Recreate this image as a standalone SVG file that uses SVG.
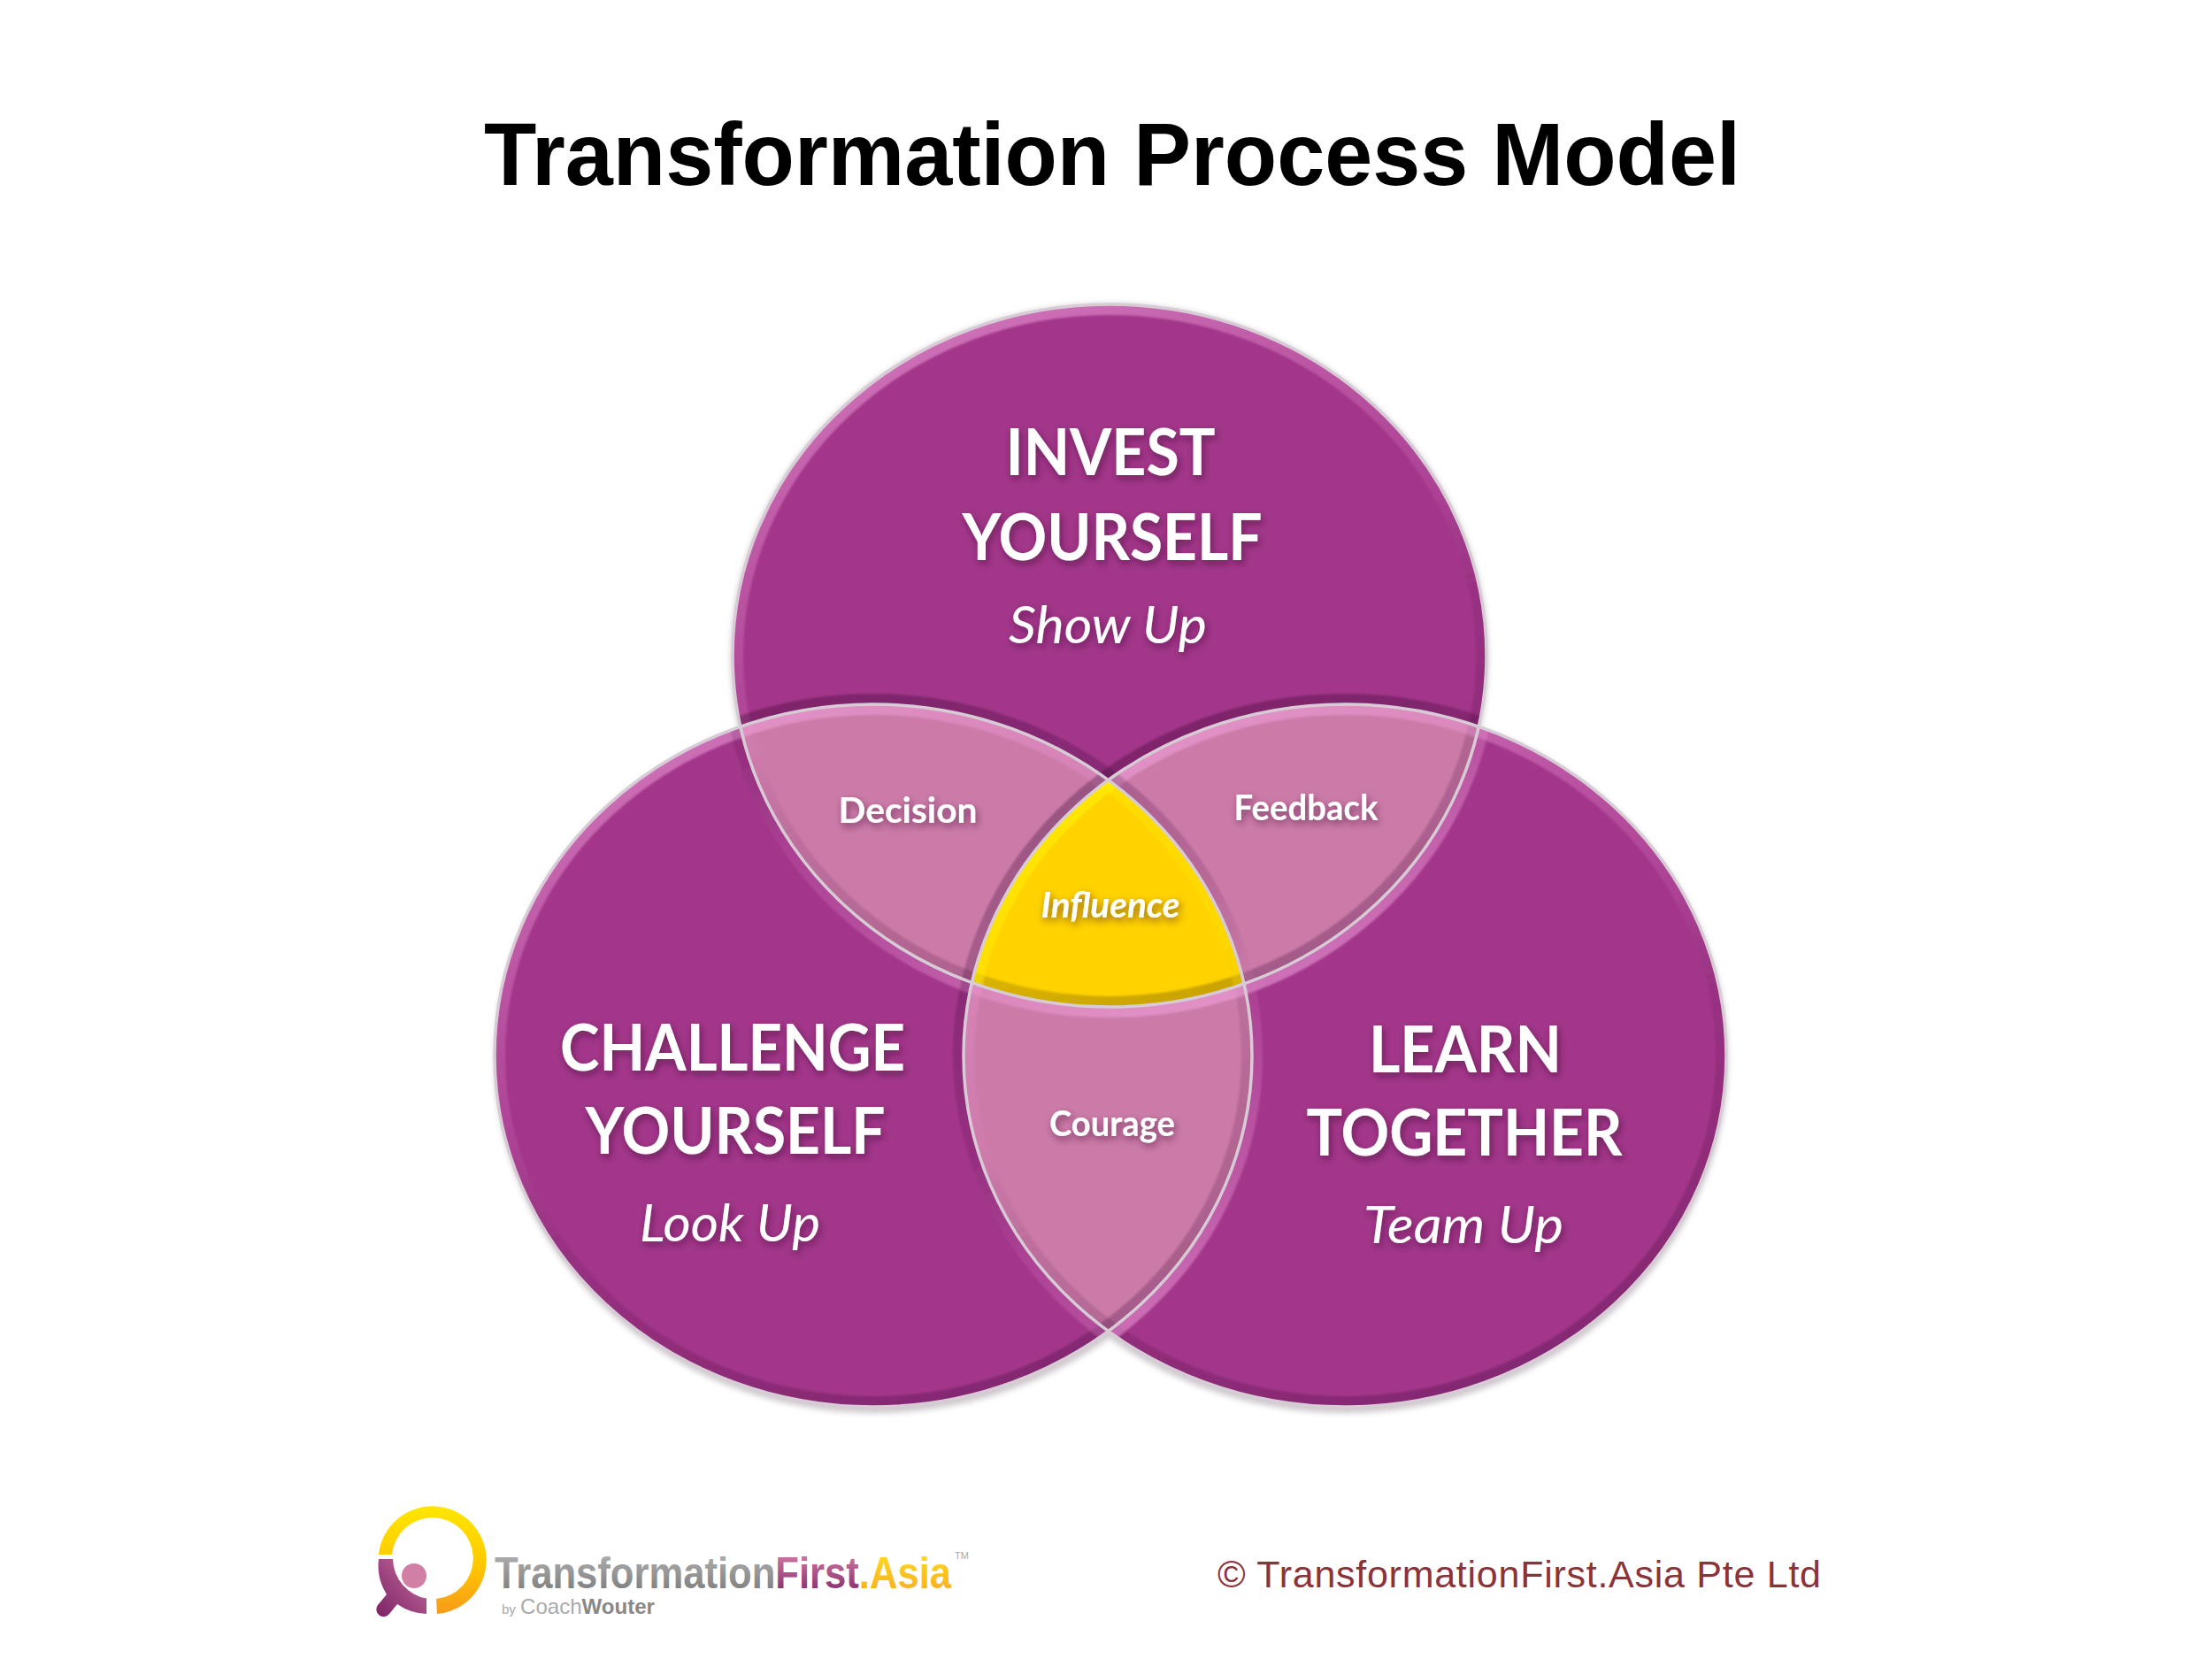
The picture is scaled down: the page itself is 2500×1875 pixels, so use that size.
<svg xmlns="http://www.w3.org/2000/svg" width="2500" height="1875" viewBox="0 0 2500 1875">
<style>
.in{fill:none;stroke:url(#gIn);stroke-width:24}
.out{fill:none;stroke:url(#gOut);stroke-width:24}
.iny{fill:none;stroke:url(#gY);stroke-width:24}
.rim{fill:none;stroke:#d7ccd6;stroke-width:3.5}
.head{font-family:"Lato","Liberation Sans",sans-serif;font-weight:700;font-size:72px;fill:#fff;text-anchor:middle;filter:url(#ts)}
.sub{font-family:"Lato","Liberation Sans",sans-serif;font-style:italic;font-size:58px;fill:#fff;text-anchor:middle;filter:url(#ts)}
.small{font-family:"Lato","Liberation Sans",sans-serif;font-weight:700;font-size:41px;fill:#fff;text-anchor:middle;filter:url(#ts)}
.logo{font-family:"Liberation Sans",sans-serif}
</style>
<defs>
<linearGradient id="gIn" x1="0.3" y1="0" x2="0.7" y2="1"><stop offset="0" stop-color="#f6a8e2" stop-opacity=".55"/><stop offset=".45" stop-color="#e080c8" stop-opacity=".16"/><stop offset=".6" stop-color="#40103a" stop-opacity=".1"/><stop offset="1" stop-color="#300a2a" stop-opacity=".28"/></linearGradient>
<linearGradient id="gOut" x1="0.3" y1="0" x2="0.7" y2="1"><stop offset="0" stop-color="#300a2a" stop-opacity=".34"/><stop offset=".45" stop-color="#40103a" stop-opacity=".14"/><stop offset=".6" stop-color="#e080c8" stop-opacity=".16"/><stop offset="1" stop-color="#f6a8e2" stop-opacity=".55"/></linearGradient>
<linearGradient id="gY" x1="0.3" y1="0" x2="0.7" y2="1"><stop offset="0" stop-color="#fff200" stop-opacity=".7"/><stop offset=".5" stop-color="#ffe000" stop-opacity=".4"/><stop offset="1" stop-color="#8a6a00" stop-opacity=".5"/></linearGradient>
<linearGradient id="ly" x1="0" y1="0" x2="0" y2="1"><stop offset="0" stop-color="#ffe600"/><stop offset=".55" stop-color="#ffc800"/><stop offset="1" stop-color="#f79a1a"/></linearGradient>
<linearGradient id="lp" x1="1" y1="0" x2="0" y2="1"><stop offset="0" stop-color="#c76f9f"/><stop offset="1" stop-color="#7c2266"/></linearGradient>
<linearGradient id="tg" x1="0" y1="0" x2="0" y2="1"><stop offset="0" stop-color="#b5b5b5"/><stop offset="1" stop-color="#777"/></linearGradient>
<linearGradient id="tp" x1="0" y1="0" x2="0" y2="1"><stop offset="0" stop-color="#d884ab"/><stop offset="1" stop-color="#7c2266"/></linearGradient>
<linearGradient id="to" x1="0" y1="0" x2="0" y2="1"><stop offset="0" stop-color="#ffe020"/><stop offset="1" stop-color="#f8a81e"/></linearGradient>
<filter id="ts" x="-20%" y="-40%" width="140%" height="200%"><feDropShadow dx="2" dy="4" stdDeviation="4" flood-color="#3a0a30" flood-opacity=".55"/></filter>
<filter id="soft" x="-5%" y="-5%" width="110%" height="110%"><feGaussianBlur stdDeviation="0.8"/></filter>
<filter id="sh" x="-5%" y="-5%" width="110%" height="110%"><feGaussianBlur stdDeviation="3"/></filter>
<ellipse id="eT" cx="1258" cy="745" rx="426" ry="397"/>
<ellipse id="eL" cx="991" cy="1197" rx="428" ry="397"/>
<ellipse id="eR" cx="1524" cy="1197" rx="431" ry="397"/>
<clipPath id="cT"><ellipse cx="1258" cy="745" rx="426" ry="397"/></clipPath>
<clipPath id="cL"><ellipse cx="991" cy="1197" rx="428" ry="397"/></clipPath>
<clipPath id="cR"><ellipse cx="1524" cy="1197" rx="431" ry="397"/></clipPath>
<clipPath id="nT"><path clip-rule="evenodd" d="M0 0H2500V1875H0Z M832 745a426 397 0 1 0 852 0a426 397 0 1 0 -852 0Z"/></clipPath>
<clipPath id="nL"><path clip-rule="evenodd" d="M0 0H2500V1875H0Z M563 1197a428 397 0 1 0 856 0a428 397 0 1 0 -856 0Z"/></clipPath>
<clipPath id="nR"><path clip-rule="evenodd" d="M0 0H2500V1875H0Z M1093 1197a431 397 0 1 0 862 0a431 397 0 1 0 -862 0Z"/></clipPath>
</defs>
<rect width="2500" height="1875" fill="#fff"/>
<text id="title" x="1257" y="209" font-family="'Liberation Sans',Arial,sans-serif" font-weight="700" font-size="100" text-anchor="middle" fill="#000" textLength="1420" lengthAdjust="spacingAndGlyphs">Transformation Process Model</text>
<g id="venn" transform="translate(-4,-4)">
<g id="shadow" fill="#bdb6bc" filter="url(#sh)" opacity=".75">
<ellipse cx="1258" cy="747" rx="428" ry="400"/><ellipse cx="993" cy="1201" rx="430" ry="400"/><ellipse cx="1524" cy="1201" rx="433" ry="400"/>
</g>
<g id="invest-yourself"><g clip-path="url(#cT)"><g clip-path="url(#nL)"><g clip-path="url(#nR)">
<rect width="2500" height="1875" fill="#a3368a"/><g filter="url(#soft)"><use href="#eT" class="in"/><use href="#eL" class="out"/><use href="#eR" class="out"/></g>
</g></g></g></g>
<g id="challenge-yourself"><g clip-path="url(#cL)"><g clip-path="url(#nT)"><g clip-path="url(#nR)">
<rect width="2500" height="1875" fill="#a3368a"/><g filter="url(#soft)"><use href="#eL" class="in"/><use href="#eT" class="out"/><use href="#eR" class="out"/></g>
</g></g></g></g>
<g id="learn-together"><g clip-path="url(#cR)"><g clip-path="url(#nT)"><g clip-path="url(#nL)">
<rect width="2500" height="1875" fill="#a3368a"/><g filter="url(#soft)"><use href="#eR" class="in"/><use href="#eT" class="out"/><use href="#eL" class="out"/></g>
</g></g></g></g>
<g id="decision"><g clip-path="url(#cT)"><g clip-path="url(#cL)"><g clip-path="url(#nR)">
<rect width="2500" height="1875" fill="#cc7ba8"/><g filter="url(#soft)"><use href="#eT" class="in"/><use href="#eL" class="in"/><use href="#eR" class="out"/></g>
</g></g></g></g>
<g id="feedback"><g clip-path="url(#cT)"><g clip-path="url(#cR)"><g clip-path="url(#nL)">
<rect width="2500" height="1875" fill="#cc7ba8"/><g filter="url(#soft)"><use href="#eT" class="in"/><use href="#eR" class="in"/><use href="#eL" class="out"/></g>
</g></g></g></g>
<g id="courage"><g clip-path="url(#cL)"><g clip-path="url(#cR)"><g clip-path="url(#nT)">
<rect width="2500" height="1875" fill="#cc7ba8"/><g filter="url(#soft)"><use href="#eL" class="in"/><use href="#eR" class="in"/><use href="#eT" class="out"/></g>
</g></g></g></g>
<g id="influence"><g clip-path="url(#cT)"><g clip-path="url(#cL)"><g clip-path="url(#cR)">
<rect width="2500" height="1875" fill="#ffd200"/><g filter="url(#soft)"><use href="#eT" class="iny"/><use href="#eL" class="iny"/><use href="#eR" class="iny"/></g>
</g></g></g></g>
<g id="rims"><use href="#eT" class="rim"/><use href="#eL" class="rim"/><use href="#eR" class="rim"/></g>
<g id="labels">
<text class="head" x="1259" y="541" textLength="237" lengthAdjust="spacingAndGlyphs">INVEST</text>
<text class="head" x="1261" y="637" textLength="339" lengthAdjust="spacingAndGlyphs">YOURSELF</text>
<text class="sub" x="1256" y="731" textLength="224" lengthAdjust="spacingAndGlyphs">Show Up</text>
<text class="head" x="832" y="1214" textLength="390" lengthAdjust="spacingAndGlyphs">CHALLENGE</text>
<text class="head" x="835" y="1308" textLength="339" lengthAdjust="spacingAndGlyphs">YOURSELF</text>
<text class="sub" x="829" y="1407" textLength="204" lengthAdjust="spacingAndGlyphs">Look Up</text>
<text class="head" x="1660" y="1216" textLength="218" lengthAdjust="spacingAndGlyphs">LEARN</text>
<text class="head" x="1659" y="1310" textLength="357" lengthAdjust="spacingAndGlyphs">TOGETHER</text>
<text class="sub" x="1658" y="1409" textLength="226" lengthAdjust="spacingAndGlyphs">Team Up</text>
<text class="small" x="1030" y="934" textLength="157" lengthAdjust="spacingAndGlyphs">Decision</text>
<text class="small" x="1480" y="931" textLength="163" lengthAdjust="spacingAndGlyphs">Feedback</text>
<text class="small" x="1259" y="1041" font-style="italic" textLength="157" lengthAdjust="spacingAndGlyphs">Influence</text>
<text class="small" x="1261" y="1288" textLength="142" lengthAdjust="spacingAndGlyphs">Courage</text>
</g>
</g>
<g id="logo" transform="translate(-1,-8)">
<path d="M429 1765a61 61 0 1 1 66 67l-1-17a46 46 0 1 0 -50 -50z" fill="url(#ly)"/>
<path d="M429 1770h16a46 46 0 0 0 38 44.500v17.500a61 61 0 0 1 -33 -11l-9 11a8 8 0 0 1 -13 -10l10 -12a61 61 0 0 1 -9 -40z" fill="url(#lp)"/>
<ellipse cx="469" cy="1789" rx="14" ry="14" fill="#d27fa6"/>
<text class="logo" x="560" y="1803" font-size="50" font-weight="700" textLength="516" lengthAdjust="spacingAndGlyphs"><tspan fill="url(#tg)">Transformation</tspan><tspan fill="url(#tp)">First</tspan><tspan fill="url(#to)">.Asia</tspan></text>
<text class="logo" x="1080" y="1770" font-size="11" fill="#aaa">TM</text>
<text class="logo" x="568" y="1832" font-size="15" fill="#aaa">by</text>
<text class="logo" x="589" y="1832" font-size="24" fill="#aaa" textLength="152" lengthAdjust="spacingAndGlyphs">Coach<tspan font-weight="700" fill="#888">Wouter</tspan></text>
</g>
<text id="copyright" x="1376" y="1794" font-family="'Liberation Sans',Arial,sans-serif" font-size="43" fill="#8c333a" textLength="682" lengthAdjust="spacing">© TransformationFirst.Asia Pte Ltd</text>
</svg>
